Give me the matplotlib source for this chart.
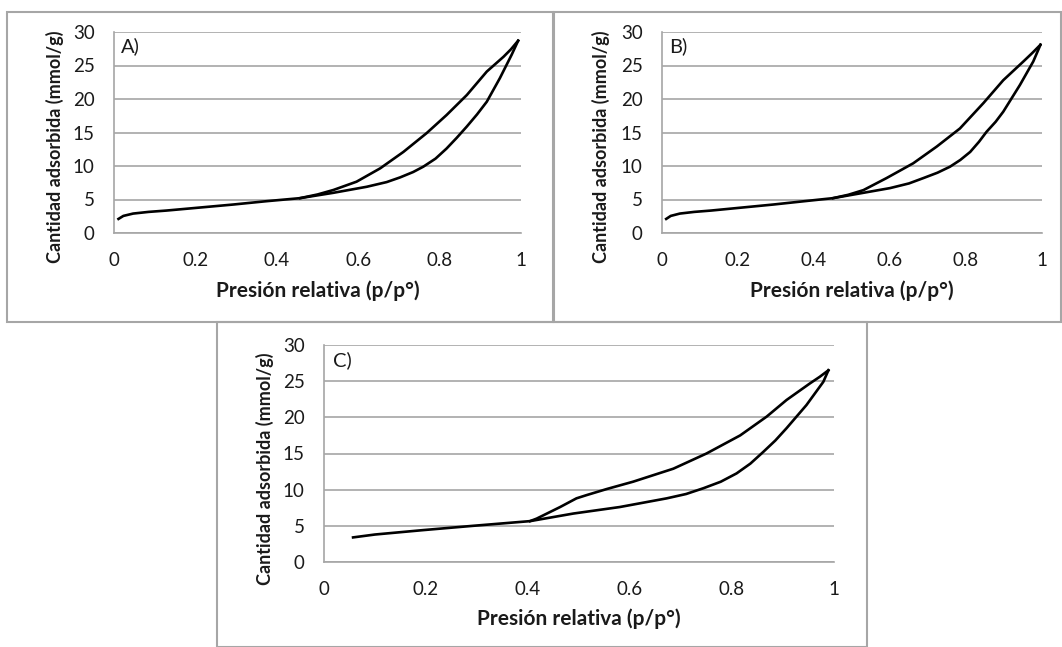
import matplotlib
matplotlib.use("Agg")
import matplotlib.pyplot as plt
from matplotlib.patches import Rectangle

plt.rcParams['font.family'] = ['Lato', 'DejaVu Sans']

# --- data (relative pressure, mmol/g) ---
# A) adsorption branch (lower) and desorption branch (upper)
a_ads_x = [0.011, 0.023, 0.047, 0.085, 0.129, 0.211, 0.293, 0.375, 0.457, 0.539, 0.621, 0.670, 0.703, 0.735,
           0.760, 0.790, 0.817, 0.842, 0.867, 0.892, 0.916, 0.948, 0.977, 0.993]
a_ads_y = [2.1, 2.55, 2.9, 3.15, 3.35, 3.8, 4.25, 4.75, 5.2, 6.0, 6.9, 7.6, 8.3, 9.1,
           9.9, 11.1, 12.6, 14.2, 15.9, 17.7, 19.6, 23.1, 26.6, 28.7]
a_des_x = [0.993, 0.975, 0.957, 0.916, 0.867, 0.817, 0.768, 0.711, 0.654, 0.596, 0.539, 0.500, 0.457]
a_des_y = [28.7, 27.4, 26.3, 24.1, 20.6, 17.6, 14.9, 12.1, 9.65, 7.66, 6.42, 5.75, 5.2]

# B)
b_ads_x = [0.011, 0.023, 0.047, 0.085, 0.129, 0.211, 0.293, 0.375, 0.450, 0.520, 0.600, 0.650, 0.688, 0.725,
           0.758, 0.785, 0.811, 0.834, 0.854, 0.878, 0.898, 0.942, 0.977, 0.996]
b_ads_y = [2.1, 2.55, 2.9, 3.15, 3.35, 3.8, 4.25, 4.75, 5.2, 5.9, 6.7, 7.4, 8.2, 9.0,
           9.9, 10.9, 12.1, 13.6, 15.1, 16.6, 18.1, 22.1, 25.6, 28.1]
b_des_x = [0.996, 0.975, 0.951, 0.898, 0.846, 0.784, 0.723, 0.661, 0.591, 0.530, 0.490, 0.450]
b_des_y = [28.1, 26.9, 25.6, 22.8, 19.4, 15.6, 12.9, 10.4, 8.2, 6.4, 5.7, 5.2]

# C)
c_ads_x = [0.057, 0.100, 0.193, 0.292, 0.404, 0.489, 0.580, 0.672, 0.710, 0.744, 0.778, 0.809, 0.836, 0.861,
           0.885, 0.907, 0.946, 0.979, 0.989]
c_ads_y = [3.4, 3.8, 4.4, 5.0, 5.65, 6.7, 7.6, 8.8, 9.4, 10.2, 11.1, 12.25, 13.6, 15.2,
           16.8, 18.5, 21.7, 24.9, 26.5]
c_des_x = [0.989, 0.972, 0.953, 0.907, 0.868, 0.816, 0.750, 0.685, 0.606, 0.555, 0.515, 0.495, 0.463, 0.417, 0.404]
c_des_y = [26.5, 25.6, 24.7, 22.4, 20.1, 17.5, 15.0, 12.9, 11.1, 10.1, 9.25, 8.8, 7.6, 6.0, 5.65]

x_ticks = [0, 0.2, 0.4, 0.6, 0.8, 1]
x_tick_labels = ["0", "0.2", "0.4", "0.6", "0.8", "1"]
y_ticks = [0, 5, 10, 15, 20, 25, 30]

W, H = 1062, 647
fig = plt.figure(figsize=(W / 100, H / 100), dpi=100)
fig.patch.set_facecolor("white")


def px_rect(x0, y0, x1, y1):
    # pixel box (top-left origin) -> figure fraction
    return [x0 / W, 1 - y1 / H, (x1 - x0) / W, (y1 - y0) / H]


# panel frames
frame_col = "#a6a6a6"
for (x0, y0, x1, y1) in [(7, 12, 553, 322), (554, 12, 1061, 322), (217, 322, 867, 647)]:
    fig.patches.append(Rectangle((x0 / W, 1 - y1 / H), (x1 - x0) / W, (y1 - y0) / H,
                                 transform=fig.transFigure, fill=False,
                                 edgecolor=frame_col, linewidth=1.5))

txt_col = "#1a1a1a"


def draw_panel(ax, ads_x, ads_y, des_x, des_y, tag, ylab_x, xlab_y):
    ax.plot(ads_x, ads_y, color="black", linewidth=1.9, solid_joinstyle="round")
    ax.plot(des_x, des_y, color="black", linewidth=1.9, solid_joinstyle="round")
    ax.set_xlim(0, 1)
    ax.set_ylim(0, 30)
    ax.set_xticks(x_ticks)
    ax.set_xticklabels(x_tick_labels)
    ax.set_yticks(y_ticks)
    ax.tick_params(length=0, labelsize=13.5, colors=txt_col)
    ax.tick_params(axis="y", pad=14)
    ax.tick_params(axis="x", pad=14)
    ax.grid(axis="y", color="#a6a6a6", linewidth=1.2)
    ax.set_axisbelow(True)
    for s in ["top", "right"]:
        ax.spines[s].set_visible(False)
    for s in ["left", "bottom"]:
        ax.spines[s].set_color("#a6a6a6")
        ax.spines[s].set_linewidth(1.2)
    ax.set_ylabel("Cantidad adsorbida (mmol/g)", fontsize=13, fontweight="bold", color=txt_col)
    ax.set_xlabel("Presión relativa (p/p°)", fontsize=15, fontweight="bold", color=txt_col)
    ax.yaxis.set_label_coords(ylab_x, 0.43)
    ax.xaxis.set_label_coords(0.5, xlab_y)
    ax.text(0.018, 0.93, tag, transform=ax.transAxes, fontsize=14.5, color=txt_col,
            ha="left", va="center")


ax = fig.add_axes(px_rect(114, 32, 521, 233))
draw_panel(ax, a_ads_x, a_ads_y, a_des_x, a_des_y, "A)", -0.123, -0.234)

ax = fig.add_axes(px_rect(662, 32, 1042, 233))
draw_panel(ax, b_ads_x, b_ads_y, b_des_x, b_des_y, "B)", -0.137, -0.234)

ax = fig.add_axes(px_rect(324, 345, 834, 562))
draw_panel(ax, c_ads_x, c_ads_y, c_des_x, c_des_y, "C)", -0.099, -0.212)

plt.savefig("out.png", dpi=100)
